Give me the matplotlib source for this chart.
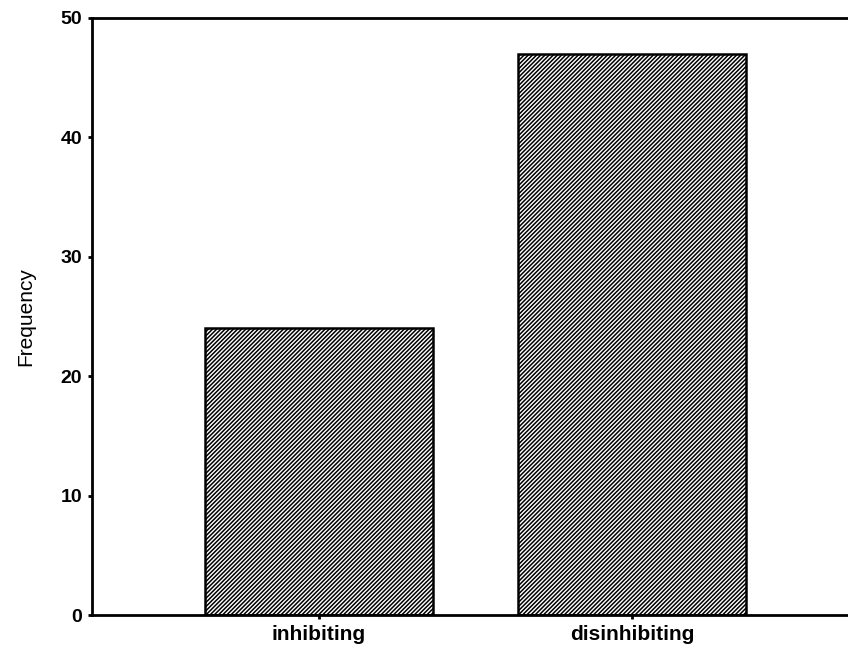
"""
Frequency of inhibiting vs disinhibiting responses
"""

import matplotlib
matplotlib.use('Agg')
import matplotlib.pyplot as plt

categories = ['inhibiting', 'disinhibiting']
frequency  = [24, 47]
y_ticks    = [0, 10, 20, 30, 40, 50]

plt.rcParams['font.family'] = ['Liberation Sans', 'DejaVu Sans']
plt.rcParams['hatch.linewidth'] = 1.1
plt.rcParams['hatch.color'] = 'black'

fig = plt.figure(figsize=(8.48, 6.54), dpi=100)
ax = fig.add_axes([92 / 848, 39 / 654, 1 - 92 / 848, 597 / 654])

positions = list(range(len(categories)))
ax.bar(positions, frequency, width=0.73, facecolor='white',
       edgecolor='black', linewidth=1.8, hatch='////////')

ax.set_xlim(-0.725, 1.69)
ax.set_ylim(0, 50)
ax.set_yticks(y_ticks)
ax.set_xticks(positions)
ax.set_xticklabels(categories, fontsize=15, fontweight='bold')
ax.set_yticklabels([str(t) for t in y_ticks], fontsize=14, fontweight='bold')
ax.set_ylabel('Frequency', fontsize=15, labelpad=18)

ax.spines['right'].set_visible(False)
for side in ('left', 'top', 'bottom'):
    ax.spines[side].set_linewidth(2)
ax.tick_params(axis='both', direction='out', length=3, width=2, pad=4)

fig.savefig('out.png', dpi=100)
